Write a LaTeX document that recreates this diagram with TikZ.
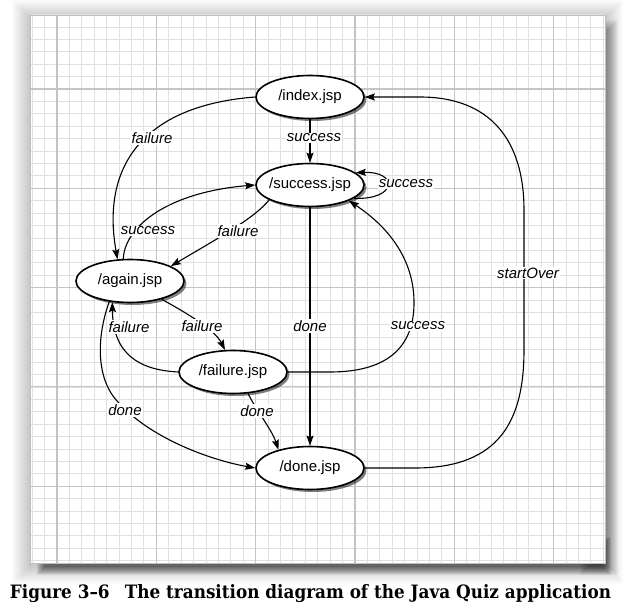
\documentclass[tikz,border=0pt]{standalone}
\usepackage{fontspec}
\setmainfont{Liberation Sans}
\newfontfamily\capfont{DejaVu Serif}
\usepackage{graphicx}
\usetikzlibrary{shapes.geometric,arrows.meta,shadows}
\definecolor{minorgrid}{HTML}{E0E0E0}
\definecolor{majorgrid}{HTML}{C4C4C4}
\newcommand\zbox[1]{\makebox[0pt]{#1}}
\tikzset{
 state/.style={ellipse, draw=black, line width=1.6pt, fill=white,
   minimum width=108pt, minimum height=43pt, inner sep=0pt,
   font=\fontsize{15}{18}\selectfont,
   drop shadow={shadow xshift=2.5pt,shadow yshift=-2.5pt,opacity=0.5,fill=black}},
 lbl/.style={fill=white, inner sep=1pt, font=\fontsize{15}{18}\selectfont\itshape},
 edge/.style={draw=black, line width=1.1pt, -{Stealth[length=10pt,width=7pt,inset=1.5pt]}},
}
\begin{document}
\begin{tikzpicture}[x=1pt,y=-1pt]
\useasboundingbox (0,0) rectangle (633,615);
\fill[white] (0,0) rectangle (633,615);
% paper shadow: soft ambient part
\foreach \r in {18,17,...,1}{
  \fill[black,opacity=0.012] (30-\r,18-\r) rectangle (605+\r,566+\r);
}
% darker part below the sheet
\foreach \r in {8,7,...,0}{
  \fill[black,opacity=0.07] (45-\r,545-\r) rectangle (603+\r,567+\r);
}
% right-hand part
\foreach \r in {10,9,...,0}{
  \fill[black,opacity=0.03] (590-\r,30-\r) rectangle (608+\r,565+\r);
}
\fill[white] (30,15) rectangle (605,563);
\begin{scope}
\clip (30,15) rectangle (605,563);
\foreach \i in {-3,...,46}
  \draw[minorgrid, line width=0.8pt] ({57+\i*12.4125},15) -- ({57+\i*12.4125},563);
\foreach \j in {-7,...,39}
  \draw[minorgrid, line width=0.8pt] (30,{89+\j*12.4125}) -- (605,{89+\j*12.4125});
\foreach \i in {0,...,5}
  \draw[majorgrid, line width=1.2pt] ({57+\i*99.3},15) -- ({57+\i*99.3},563);
\foreach \j in {0,...,4}
  \draw[majorgrid, line width=1.2pt] (30,{89+\j*99.3}) -- (605,{89+\j*99.3});
\end{scope}
\draw[black!25, line width=0.6pt] (30,15) rectangle (605,563);

% states
\node[state] (index)   at (310,97)  {\zbox{/index.jsp}};
\node[state] (success) at (310,185) {\zbox{/success.jsp}};
\node[state] (again)   at (130,281) {\zbox{/again.jsp}};
\node[state] (failure) at (233,372) {\zbox{/failure.jsp}};
\node[state] (done)    at (310,468) {\zbox{/done.jsp}};

% transitions
\draw[edge] (index.west) .. controls (150,105) and (100,160) .. (again.120);
\draw[edge] (index.south) -- (success.north);
\draw[edge] (success.-17) .. controls (398,200) and (398,171) .. (success.15);
\draw[edge] (again.107) .. controls (125,225) and (170,192) .. (success.west);
\draw[edge] (success.-160) .. controls (255,218) and (215,240) .. (again.20);
\draw[edge] (success.south) -- (done.north);
\draw[edge] (again.-30) .. controls (185,312) and (215,330) .. (failure.110);
\draw[edge] (failure.west) .. controls (140,370) and (113,355) .. (again.-130);
\draw[edge] (failure.east) -- (330,372) .. controls (390,372) and (415,345) .. (414,300)
   .. controls (413,260) and (390,228) .. (success.-22);
\draw[edge] (failure.-55) .. controls (256,410) and (272,430) .. (done.150);
\draw[edge] (again.-135) .. controls (97,335) and (95,378) .. (118,402)
   .. controls (150,438) and (210,460) .. (done.west);
\draw[edge] (done.east) -- (415,468) .. controls (500,468) and (524,420) .. (524,350)
   -- (524,210) .. controls (524,140) and (490,97) .. (420,97) -- (index.east);

% labels
\node[lbl] (lf1) at (152,138) {failure};
\node[lbl] (ls1) at (314,138) {success};
\node[lbl] (ls2) at (406,184) {success};
\node[lbl] (ls3) at (148,231) {success};
\node[lbl] (lf2) at (238,231) {failure};
\node[lbl] (ld1) at (310,326) {done};
\node[lbl] (lf3) at (202,326) {failure};
\node[lbl] (lf4) at (129,327) {failure};
\node[lbl] (ls4) at (418,326) {success};
\node[lbl] (ld2) at (125,410) {done};
\node[lbl] (ld3) at (257,411) {done};
\node[lbl] (lso) at (528,273) {startOver};

% caption
\node[anchor=base, inner sep=0pt] (cap) at (310.5,598)
  {\resizebox{601pt}{14pt}{\capfont\bfseries Figure 3–6\hspace{0.9em}The transition diagram of the Java Quiz application}};
\end{tikzpicture}
\end{document}
